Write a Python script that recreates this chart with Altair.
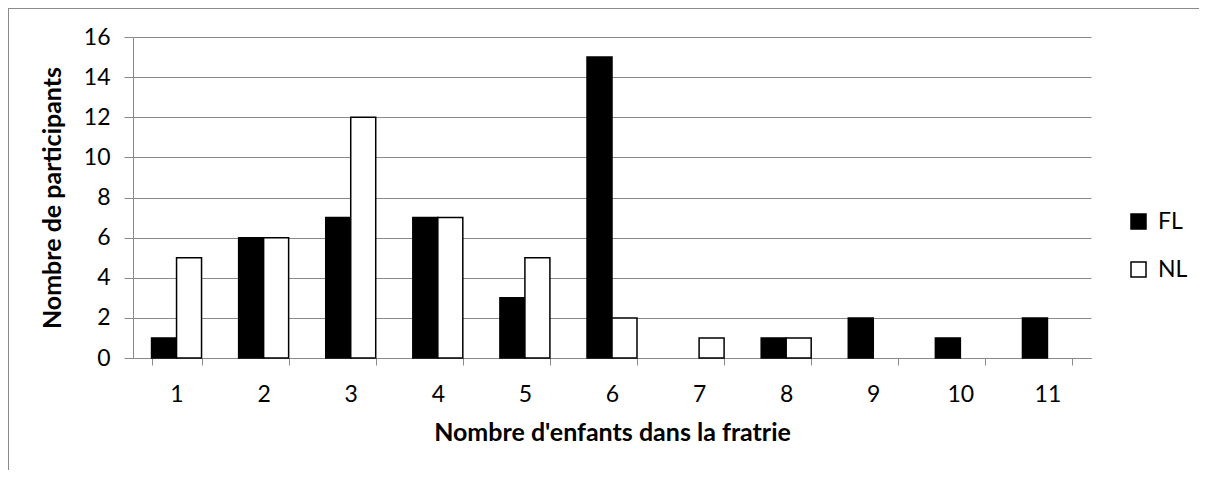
import altair as alt
import pandas as pd

categories = ["1", "2", "3", "4", "5", "6", "7", "8", "9", "10", "11"]
fl_values = [1, 6, 7, 7, 3, 15, 0, 1, 2, 1, 2]
nl_values = [5, 6, 12, 7, 5, 2, 1, 1, 0, 0, 0]
series = ["FL", "NL"]

rows = []
for c, f, n in zip(categories, fl_values, nl_values):
    rows.append({"Enfants": c, "Groupe": "FL", "Nombre": f})
    rows.append({"Enfants": c, "Groupe": "NL", "Nombre": n})
df = pd.DataFrame(rows)

FONT = "Lato"
GRAY = "#8a8a8a"

bars = alt.Chart(df).transform_filter(alt.datum.Nombre > 0).mark_bar(
    stroke="black", strokeWidth=1.5
).encode(
    x=alt.X("Enfants:N", sort=categories,
            scale=alt.Scale(paddingInner=0.426, paddingOuter=0.213),
            axis=alt.Axis(title="Nombre d'enfants dans la fratrie", labelAngle=0,
                          tickBand="extent", tickSize=7, tickColor=GRAY,
                          domainColor=GRAY, labelPadding=18, titlePadding=14,
                          labelFontSize=23, titleFontSize=25, titleFontWeight="bold",
                          labelColor="black", titleColor="black")),
    xOffset=alt.XOffset("Groupe:N", sort=series),
    y=alt.Y("Nombre:Q", scale=alt.Scale(domain=[0, 16]),
            axis=alt.Axis(title="Nombre de participants", values=list(range(0, 17, 2)),
                          tickSize=9, tickColor=GRAY, domainColor=GRAY,
                          grid=True, gridColor=GRAY, gridWidth=1,
                          labelPadding=14, titlePadding=18,
                          labelFontSize=23, titleFontSize=25, titleFontWeight="bold",
                          labelColor="black", titleColor="black")),
    fill=alt.Fill("Groupe:N", sort=series,
                  scale=alt.Scale(domain=series, range=["black", "white"]),
                  legend=alt.Legend(title=None, orient="none", legendX=994, legendY=173,
                                    symbolType="square", symbolSize=225,
                                    symbolStrokeColor="black", symbolStrokeWidth=1.5,
                                    labelFontSize=23, labelOffset=8, rowPadding=24,
                                    labelColor="black")),
)

frame_top = alt.Chart(alt.Data(values=[{}])).mark_rule(
    stroke=GRAY, strokeWidth=2, clip=False
).encode(
    x=alt.value(-125), x2=alt.value(1300), y=alt.value(-29),
)
frame_left = alt.Chart(alt.Data(values=[{}])).mark_rule(
    stroke=GRAY, strokeWidth=2, clip=False
).encode(
    x=alt.value(-125), y=alt.value(-29), y2=alt.value(700),
)

chart = alt.layer(frame_top, frame_left, bars).properties(
    width=958, height=321,
    autosize=alt.AutoSizeParams(type="none"),
    padding={"left": 125, "top": 29, "right": 108, "bottom": 112},
).configure(font=FONT).configure_view(strokeWidth=0)

chart.save("out.html", embed_options={"renderer": "svg", "actions": False})
